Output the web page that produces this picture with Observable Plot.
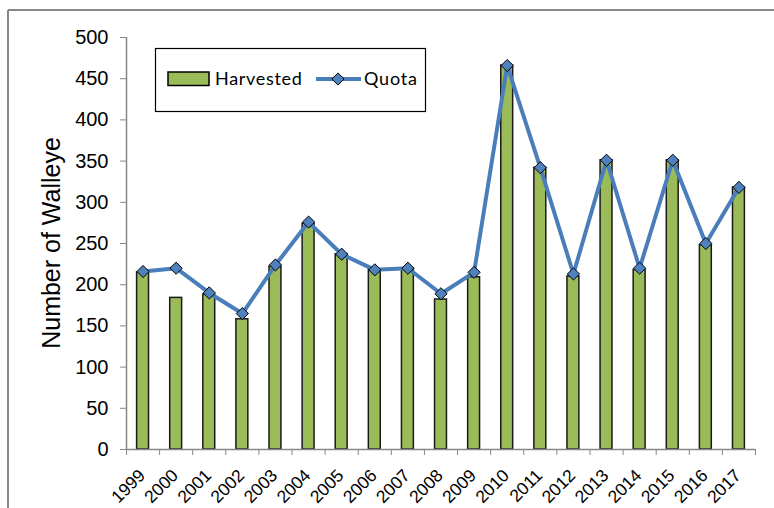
<!DOCTYPE html>
<html><head><meta charset="utf-8">
<script src="https://cdn.jsdelivr.net/npm/d3@7"></script>
<script src="https://cdn.jsdelivr.net/npm/@observablehq/plot@0.6"></script>
<style>body{margin:0;background:#fff;} #chart{position:relative;width:774px;height:508px;overflow:hidden}</style>
</head><body><div id="chart"></div>
<script>
const years = [1999,2000,2001,2002,2003,2004,2005,2006,2007,2008,2009,2010,2011,2012,2013,2014,2015,2016,2017];
const harvested = [215,184,188,158,222,274,237,218,220,182,209,466,342,210,351,218,351,248,318];
const quota = [216,220,190,165,224,276,237,218,220,189,215,466,342,213,351,220,351,250,318];
const yTicks = [0,50,100,150,200,250,300,350,400,450,500];
const seriesNames = ["Harvested","Quota"];
const yTitle = "Number of Walleye";

const green = "#9BBB59", blue = "#4A7EBB", grey = "#868686";
const data = years.map((year,i)=>({year, harvested: harvested[i], quota: quota[i]}));
const boundaries = [years[0]-0.5, ...years.map(y=>y+0.5)];
const half = 0.18;

const chart = Plot.plot({
  width: 774, height: 508,
  marginLeft: 126, marginRight: 19, marginTop: 37, marginBottom: 59,
  x: {domain: [years[0]-0.5, years[years.length-1]+0.5], axis: null},
  y: {domain: [yTicks[0], yTicks[yTicks.length-1]], axis: null},
  style: {fontFamily: "'Liberation Sans', Arial, sans-serif", background: "white", color: "black"},
  marks: [
    Plot.rect(data, {x1: d=>d.year-half, x2: d=>d.year+half, y1: d=>0, y2: "harvested", fill: green, stroke: "#1a1a1a", strokeWidth: 1.5}),
    Plot.ruleX([boundaries[0]], {stroke: grey, strokeWidth: 1.5}),
    Plot.ruleY([0], {stroke: grey, strokeWidth: 1.5}),
    Plot.axisX(boundaries, {tickSize: 6, tickFormat: ()=>"", stroke: grey, label: null}),
    Plot.axisY(yTicks, {tickSize: 6, tickPadding: 12, fontSize: 20, stroke: grey, fill: "black", label: null}),
    Plot.line(data, {x: "year", y: "quota", stroke: blue, strokeWidth: 4}),
    Plot.dot(data, {x: "year", y: "quota", symbol: "diamond2", r: 5.5, fill: "#4F81BD", stroke: "black", strokeWidth: 1}),
    Plot.text(years, {x: d=>d, y: d=>0, text: d=>String(d), rotate: -45, textAnchor: "end", lineAnchor: "bottom", dx: 3, dy: 27, fontSize: 17.5, fill: "black"})
  ]
});
document.getElementById("chart").appendChild(chart);

const svg = d3.select(chart);
// outer frame (top & left visible)
svg.append("line").attr("x1",8).attr("x2",774).attr("y1",10).attr("y2",10).attr("stroke","#878787").attr("stroke-width",2);
svg.append("line").attr("x1",8).attr("x2",8).attr("y1",10).attr("y2",508).attr("stroke","#878787").attr("stroke-width",2);
// y title
svg.append("text").attr("transform","translate(60,243) rotate(-90)").attr("text-anchor","middle")
  .attr("font-family","'Liberation Sans', Arial, sans-serif").attr("font-size",25).attr("fill","black").text(yTitle);
// legend
const lg = svg.append("g").attr("font-family","Lato, 'Open Sans', sans-serif").attr("font-size",18).attr("text-anchor","start");
lg.append("rect").attr("x",155.5).attr("y",48.5).attr("width",270).attr("height",63).attr("fill","white").attr("stroke","black").attr("stroke-width",1.2);
lg.append("rect").attr("x",168).attr("y",72).attr("width",41).attr("height",13.5).attr("fill",green).attr("stroke","black").attr("stroke-width",1.5);
lg.append("text").attr("x",215).attr("y",85).attr("fill","black").attr("letter-spacing",0.7).text(seriesNames[0]);
lg.append("line").attr("x1",316).attr("x2",361).attr("y1",79).attr("y2",79).attr("stroke",blue).attr("stroke-width",4);
lg.append("path").attr("d",d3.symbol(d3.symbolDiamond2, Math.PI*5.5*5.5)()).attr("transform","translate(338,79)").attr("fill","#4F81BD").attr("stroke","black").attr("stroke-width",1);
lg.append("text").attr("x",364).attr("y",85).attr("fill","black").attr("letter-spacing",0.8).text(seriesNames[1]);
</script></body></html>
